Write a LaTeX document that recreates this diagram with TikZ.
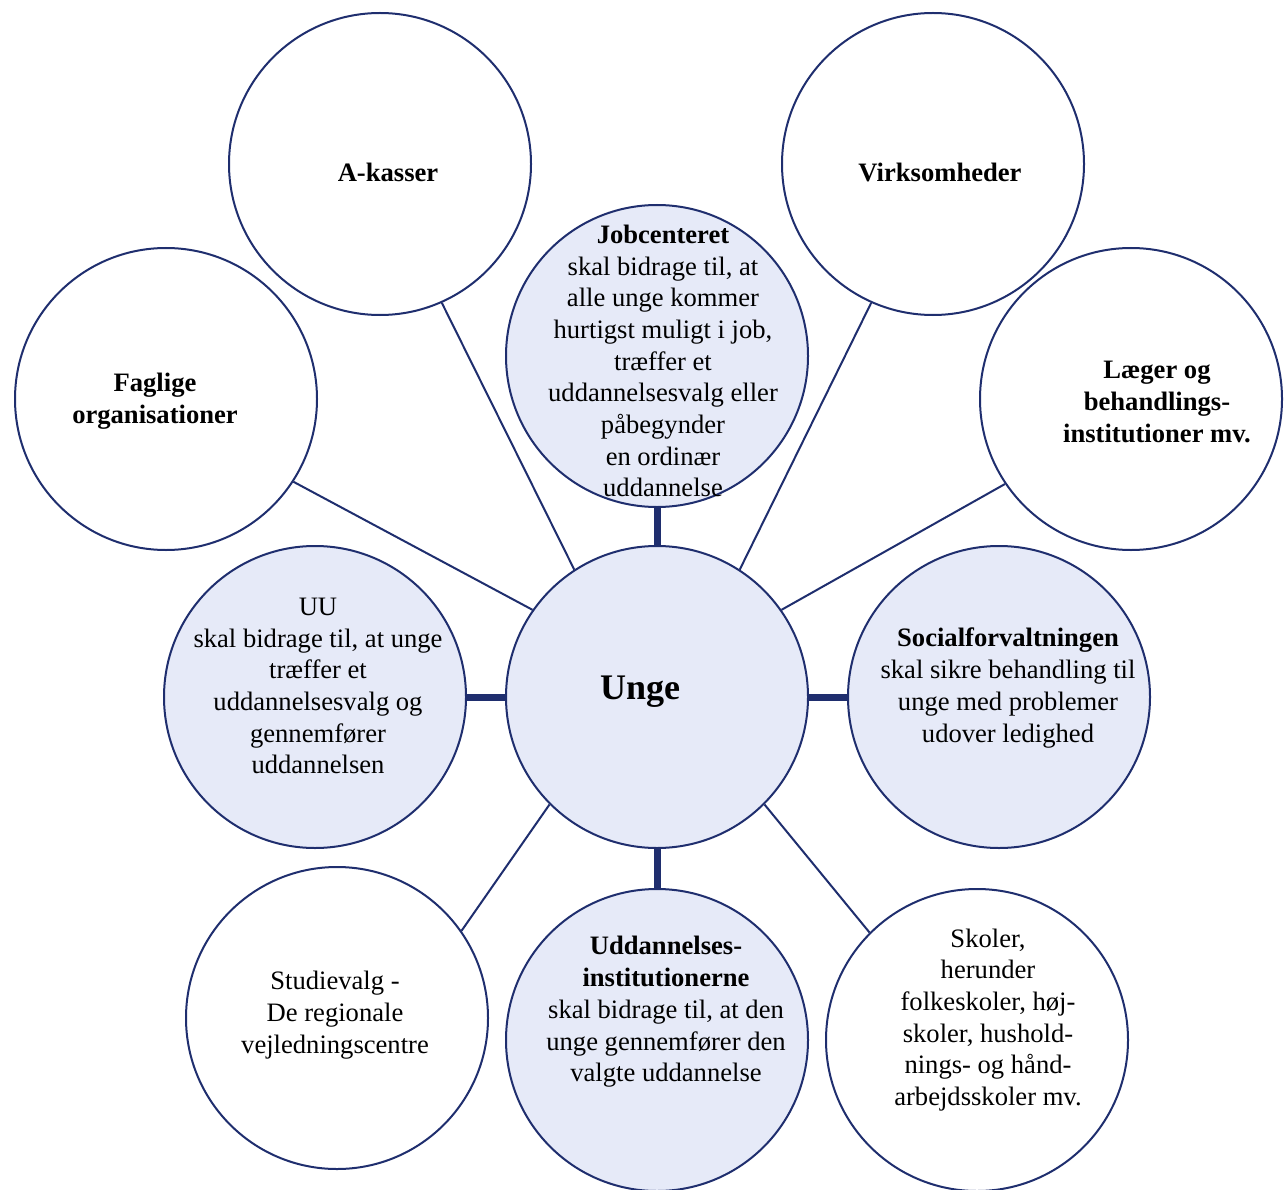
\documentclass[tikz,border=0pt]{standalone}
\usepackage{fontspec}
\setmainfont{Liberation Serif}
\definecolor{navy}{HTML}{1F2E6E}
\definecolor{lav}{HTML}{E6EAF8}
\tikzset{
  bubble/.style={circle, draw=navy, line width=2pt, minimum size=302pt, inner sep=0pt},
  filledbubble/.style={bubble, fill=lav},
  txt/.style={align=center, inner sep=0pt, text=black, font=\fontsize{26.6}{31.7}\selectfont},
  thinlink/.style={draw=navy, line width=2pt},
  thicklink/.style={draw=navy, line width=7pt}
}
\begin{document}
\begin{tikzpicture}[x=1pt,y=-1pt]
\useasboundingbox (0,0) rectangle (1284,1190);
% outer circles
\node[bubble] (ak) at (380,164) {};
\node[bubble] (vir) at (933,164) {};
\node[bubble] (fag) at (166,399) {};
\node[bubble] (lae) at (1131,399) {};
\node[bubble] (stu) at (337,1018) {};
\node[bubble] (sko) at (977,1040) {};
% filled circles
\node[filledbubble] (job) at (657,356) {};
\node[filledbubble] (unge) at (657,697) {};
\node[filledbubble] (uu) at (315,697) {};
\node[filledbubble] (soc) at (999,697) {};
\node[filledbubble] (udd) at (657,1040) {};
% thin connectors
\draw[thinlink] (fag.-33) -- (unge.145);
\draw[thinlink] (ak.-66) -- (unge.123);
\draw[thinlink] (vir.-114) -- (unge.57);
\draw[thinlink] (lae.-146) -- (unge.35);
\draw[thinlink] (unge.-135) -- (stu.35);
\draw[thinlink] (unge.-45) -- (sko.135);
% thick connectors
\draw[thicklink] (unge.north) -- (job.south);
\draw[thicklink] (unge.west) -- (uu.east);
\draw[thicklink] (unge.east) -- (soc.west);
\draw[thicklink] (unge.south) -- (udd.north);
% texts
\node[txt] (akT) at (388,172) {\textbf{A-kasser}};
\node[txt] (virT) at (940,172) {\textbf{Virksomheder}};
\node[txt] (fagT) at (155,401) {\textbf{Faglige}\\\textbf{organisationer}};
\node[txt] (laeT) at (1157,402) {\textbf{Læger og}\\\textbf{behandlings-}\\\textbf{institutioner mv.}};
\node[txt] (jobT) at (663,361) {\textbf{Jobcenteret}\\skal bidrage til, at\\alle unge kommer\\hurtigst muligt i job,\\træffer et\\uddannelsesvalg eller\\påbegynder\\en ordinær\\uddannelse};
\node[txt] (uuT) at (318,686) {UU\\skal bidrage til, at unge\\træffer et\\uddannelsesvalg og\\gennemfører\\uddannelsen};
\node[txt, font=\fontsize{36}{40}\selectfont\bfseries] (ungeT) at (640,692) {Unge};
\node[txt] (socT) at (1008,688) {\textbf{Socialforvaltningen}\\skal sikre behandling til\\unge med problemer\\udover ledighed};
\node[txt] (stuT) at (335,1015) {Studievalg -\\De regionale\\vejledningscentre};
\node[txt] (uddT) at (666,1012) {\textbf{Uddannelses-}\\\textbf{institutionerne}\\skal bidrage til, at den\\unge gennemfører den\\valgte uddannelse};
\node[txt] (skoT) at (988,1020) {Skoler,\\herunder\\folkeskoler, høj-\\skoler, hushold-\\nings- og hånd-\\arbejdsskoler mv.};
\end{tikzpicture}
\end{document}
